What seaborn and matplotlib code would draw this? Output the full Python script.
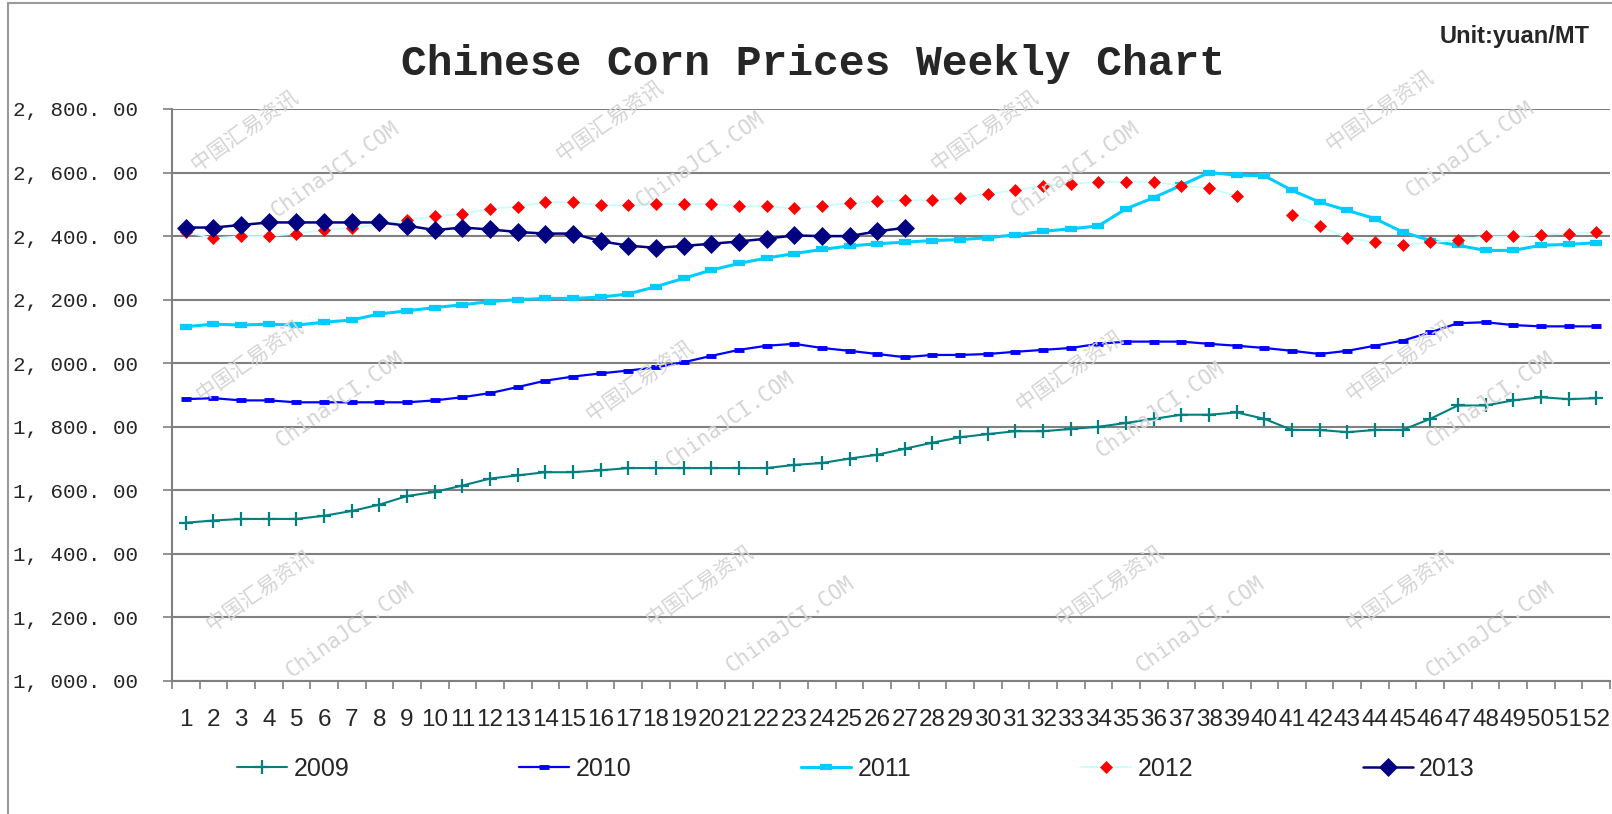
import numpy as np
import pandas as pd
import matplotlib
matplotlib.use("Agg")
import matplotlib.pyplot as plt
from matplotlib.lines import Line2D
import seaborn as sns

# ---------------- data ----------------
weeks = list(range(1, 53))
week_labels = [str(w) for w in weeks]

y2009 = [1498, 1505, 1510, 1510, 1510, 1520, 1535, 1555, 1582, 1595,
         1615, 1637, 1647, 1657, 1657, 1663, 1670, 1670, 1670, 1670,
         1670, 1670, 1680, 1686, 1700, 1712, 1731, 1750, 1767, 1777,
         1786, 1786, 1793, 1800, 1812, 1825, 1838, 1838, 1845, 1825,
         1790, 1790, 1783, 1790, 1790, 1825, 1867, 1867, 1883, 1893,
         1887, 1890]
y2010 = [1887, 1890, 1883, 1883, 1877, 1877, 1877, 1877, 1877, 1883,
         1893, 1906, 1925, 1945, 1958, 1968, 1977, 1987, 2003, 2023,
         2042, 2055, 2061, 2048, 2039, 2029, 2019, 2026, 2026, 2029,
         2036, 2042, 2048, 2061, 2068, 2068, 2068, 2061, 2055, 2048,
         2039, 2029, 2039, 2055, 2071, 2097, 2126, 2129, 2120, 2116,
         2116, 2116]
y2011 = [2115, 2123, 2120, 2123, 2120, 2129, 2136, 2155, 2165, 2175,
         2184, 2194, 2200, 2204, 2204, 2208, 2218, 2241, 2267, 2293,
         2314, 2331, 2345, 2358, 2369, 2376, 2381, 2386, 2389, 2395,
         2404, 2415, 2423, 2432, 2486, 2521, 2560, 2600, 2592, 2590,
         2544, 2507, 2481, 2455, 2413, 2386, 2371, 2355, 2355, 2371,
         2374, 2379]
y2012 = [2413, 2393, 2400, 2400, 2408, 2419, 2426, 2436, 2451, 2462,
         2470, 2486, 2493, 2506, 2506, 2497, 2497, 2501, 2501, 2501,
         2494, 2494, 2487, 2496, 2503, 2509, 2513, 2513, 2521, 2532,
         2545, 2558, 2565, 2570, 2571, 2571, 2558, 2552, 2526, np.nan,
         2468, 2431, 2395, 2380, 2373, 2380, 2388, 2399, 2399, 2405,
         2407, 2413]
y2013 = [2427, 2427, 2435, 2443, 2443, 2443, 2443, 2443, 2433, 2419,
         2427, 2421, 2413, 2408, 2408, 2384, 2370, 2363, 2369, 2376,
         2383, 2392, 2402, 2400, 2400, 2415, 2426]

series_names = ["2009", "2010", "2011", "2012", "2013"]
series_values = [y2009, y2010, y2011, y2012, y2013]
y_ticks = [1000, 1200, 1400, 1600, 1800, 2000, 2200, 2400, 2600, 2800]

title_text = "Chinese Corn Prices Weekly Chart"
unit_text = "Unit:yuan/MT"

# ---------------- styles ----------------
styles = {
    "2009": dict(color="#008080", lw=1.5, marker="+", ms=10, mew=1.6,
                 mfc="#008080", mec="#008080"),
    "2010": dict(color="#0000FF", lw=1.6, marker="_", ms=7, mew=3.5,
                 mfc="#0000FF", mec="#0000FF"),
    "2011": dict(color="#00CCFF", lw=2.2, marker="_", ms=9, mew=4.5,
                 mfc="#00CCFF", mec="#00CCFF"),
    "2012": dict(color="#C8FFFF", lw=1.3, marker="D", ms=6.5, mew=0.5,
                 mfc="#FF0000", mec="#FF0000"),
    "2013": dict(color="#000080", lw=1.8, marker="D", ms=9, mew=0.5,
                 mfc="#000080", mec="#000080"),
}

sns.set_style("white")
plt.rcParams["font.family"] = ["Liberation Sans", "DejaVu Sans"]

W, H = 1612, 814
fig = plt.figure(figsize=(W / 100, H / 100), dpi=100)
fig.patch.set_facecolor("white")

# ---- watermarks (faint) ----
wm_cn = [(245, 130), (610, 120), (985, 130), (1380, 110),
         (250, 360), (640, 380), (1070, 370), (1400, 360),
         (260, 590), (700, 585), (1110, 585), (1400, 590)]
for (px, py) in wm_cn:
    fig.text(px / W, 1 - py / H, "中国汇易资讯", rotation=35, fontsize=15,
             color="#d4d4d4", ha="center", va="center", zorder=0,
             family=["Noto Sans CJK SC", "DejaVu Sans"])
    fig.text((px + 90) / W, 1 - (py + 40) / H, "ChinaJCI.COM", rotation=35,
             fontsize=15, color="#d4d4d4", ha="center", va="center", zorder=0,
             family=["DejaVu Sans Mono"])

ax = fig.add_axes([172 / W, 1 - 681 / H, (1610 - 172) / W, (681 - 109) / H])
ax.set_facecolor("none")

# ---------------- draw ----------------
for name, vals in zip(series_names, series_values):
    st = styles[name]
    df = pd.DataFrame({"week": weeks[:len(vals)], "price": vals})
    # split at missing values so gaps are kept
    df["seg"] = df["price"].isna().cumsum()
    df = df.dropna()
    sns.lineplot(data=df, x="week", y="price", units="seg", estimator=None,
                 ax=ax, color=st["color"], linewidth=st["lw"],
                 marker=st["marker"], markersize=st["ms"],
                 markeredgewidth=st["mew"], markerfacecolor=st["mfc"],
                 markeredgecolor=st["mec"], legend=False, zorder=3)

ax.set_xlim(0.5, 52.5)
ax.set_ylim(1000, 2800)
ax.set_xlabel("")
ax.set_ylabel("")

# y axis
ax.set_yticks(y_ticks)
ax.set_yticklabels([f"{v:,.2f}".replace(",", ", ").replace(".", ". ")
                    for v in y_ticks],
                   family=["Liberation Mono", "DejaVu Sans Mono"],
                   fontsize=15)
ax.tick_params(axis="y", which="major", direction="out", length=6.5,
               width=1.2, color="#808080", pad=18, left=True)
ax.yaxis.grid(True, color="#808080", linewidth=1.5, zorder=1)
ax.set_axisbelow(True)

# x axis: boundary ticks + centered labels
ax.set_xticks(np.arange(0.5, 53, 1.0))
ax.set_xticklabels([])
ax.tick_params(axis="x", which="major", direction="out", length=6,
               width=1.2, color="#808080", bottom=True)
ax.set_xticks(weeks, minor=True)
ax.set_xticklabels(week_labels, minor=True, fontsize=17.5)
ax.tick_params(axis="x", which="minor", length=0, pad=20)

for s in ["top", "right"]:
    ax.spines[s].set_visible(False)
for s in ["left", "bottom"]:
    ax.spines[s].set_color("#808080")
    ax.spines[s].set_linewidth(1.5)

# ---------------- title / unit ----------------
fig.text(813 / W, 1 - 64 / H, title_text, ha="center", va="center",
         fontsize=31, fontweight="bold",
         family=["Liberation Mono", "DejaVu Sans Mono"])
fig.text(1515 / W, 1 - 36 / H, unit_text, ha="center", va="center",
         fontsize=17, fontweight="bold",
         family=["Liberation Sans Narrow", "Liberation Sans"])

# ---------------- legend ----------------
handles = []
for name in series_names:
    st = styles[name]
    handles.append(Line2D([0], [0], color=st["color"], lw=st["lw"],
                          marker=st["marker"], markersize=st["ms"],
                          markeredgewidth=st["mew"],
                          markerfacecolor=st["mfc"],
                          markeredgecolor=st["mec"], label=name))
fig.legend(handles=handles, loc="center", bbox_to_anchor=(856 / W, 1 - 769 / H),
           ncol=5, frameon=False, fontsize=18, handlelength=2.0,
           handletextpad=0.25, columnspacing=6.8, numpoints=1,
           borderpad=0)

# ---------------- frame border ----------------
fig.add_artist(Line2D([8 / W, 8 / W], [0, 1 - 3 / H], color="#9a9a9a",
                      lw=1.5, transform=fig.transFigure))
fig.add_artist(Line2D([8 / W, 1], [1 - 3 / H, 1 - 3 / H], color="#9a9a9a",
                      lw=1.5, transform=fig.transFigure))

fig.savefig("out.png", dpi=100, facecolor="white")
